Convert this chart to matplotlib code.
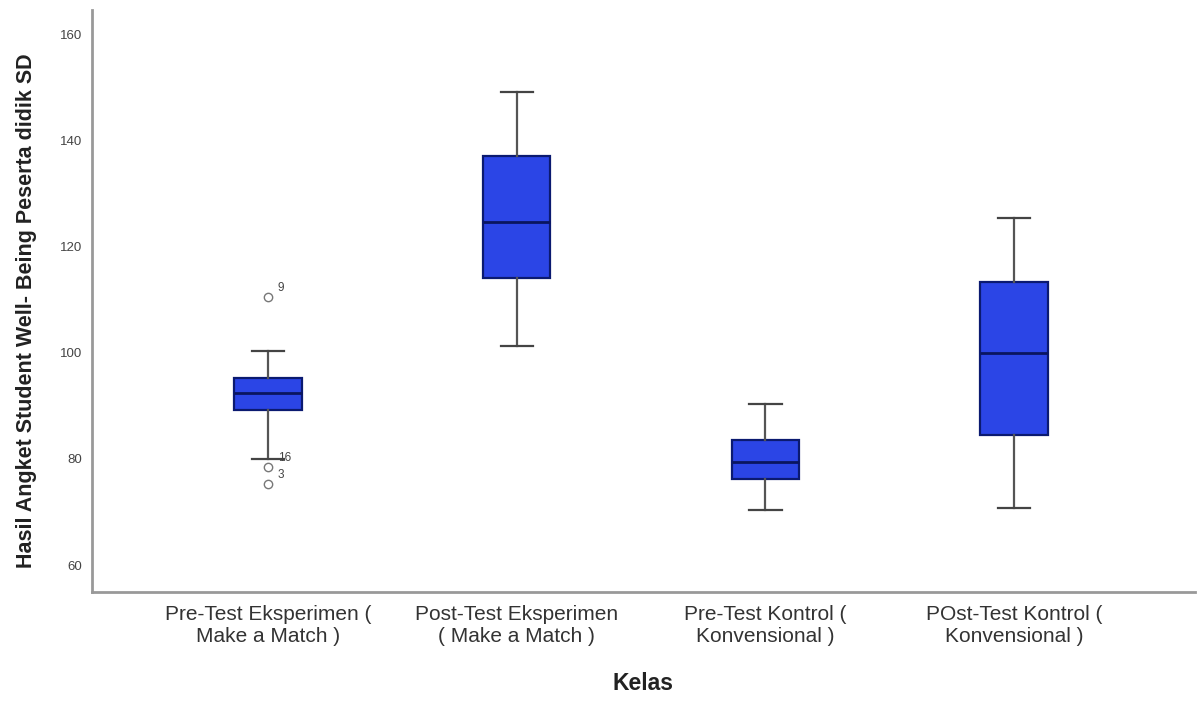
import matplotlib
matplotlib.use("Agg")
import matplotlib.pyplot as plt

plt.rcParams["font.family"] = ["Liberation Sans", "DejaVu Sans"]

# Group labels
groups = ["Pre-Test Eksperimen (\nMake a Match )",
          "Post-Test Eksperimen\n( Make a Match )",
          "Pre-Test Kontrol (\nKonvensional )",
          "POst-Test Kontrol (\nKonvensional )"]

# Five-number summaries per group
whisker_low = [80.0, 101.3, 70.4, 70.8]
q1 = [89.2, 114.2, 76.2, 84.5]
median = [92.5, 124.7, 79.4, 100.0]
q3 = [95.3, 137.2, 83.6, 113.4]
whisker_high = [100.4, 149.2, 90.4, 125.5]

# Outliers (value, case label) for each group
outlier_values = [[110.6, 78.5, 75.3], [], [], []]
outlier_labels = [["9", "16", "3"], [], [], []]

yticks = [60, 80, 100, 120, 140, 160]

fig = plt.figure(figsize=(12.02, 7.04), dpi=100)
ax = fig.add_axes([0.0765, 0.159, 0.9175, 0.827])

stats = []
for i in range(len(groups)):
    stats.append(dict(med=median[i], q1=q1[i], q3=q3[i],
                      whislo=whisker_low[i], whishi=whisker_high[i],
                      fliers=outlier_values[i], label=groups[i]))

positions = list(range(len(groups)))
bp = ax.bxp(stats, positions=positions, widths=0.27, patch_artist=True,
            showfliers=True,
            boxprops=dict(facecolor="#2b45e6", edgecolor="#0b1a70", linewidth=1.6),
            medianprops=dict(color="#0a1560", linewidth=2.0),
            whiskerprops=dict(color="#555555", linewidth=1.6),
            capprops=dict(color="#444444", linewidth=1.6),
            flierprops=dict(marker="o", markersize=6, markerfacecolor="none",
                            markeredgecolor="#777777", markeredgewidth=1.0),
            capwidths=0.13)

for i, (vals, labs) in enumerate(zip(outlier_values, outlier_labels)):
    for v, lab in zip(vals, labs):
        ax.text(positions[i] + 0.04, v + 0.6, lab, fontsize=8.5, color="#444444",
                ha="left", va="bottom")

ax.set_xlim(-0.708, 3.727)
ax.set_ylim(54.9, 164.7)
ax.set_yticks(yticks)
ax.set_yticklabels([str(t) for t in yticks], fontsize=9.5, color="#444444")
ax.set_xticks(positions)
ax.set_xticklabels(groups, fontsize=15, color="#333333")
ax.tick_params(axis="y", length=0, pad=7)
ax.tick_params(axis="x", length=0, pad=9)

for side in ["top", "right"]:
    ax.spines[side].set_visible(False)
for side in ["left", "bottom"]:
    ax.spines[side].set_color("#999999")
    ax.spines[side].set_linewidth(2.0)

ax.set_xlabel("Kelas", fontsize=16.5, fontweight="bold", color="#222222", labelpad=19)
ax.set_ylabel("Hasil Angket Student Well- Being Peserta didik SD", fontsize=15.5,
              fontweight="bold", color="#222222")
ax.yaxis.set_label_coords(-0.050, 0.483)

fig.savefig("out.png", dpi=100, facecolor="white")
